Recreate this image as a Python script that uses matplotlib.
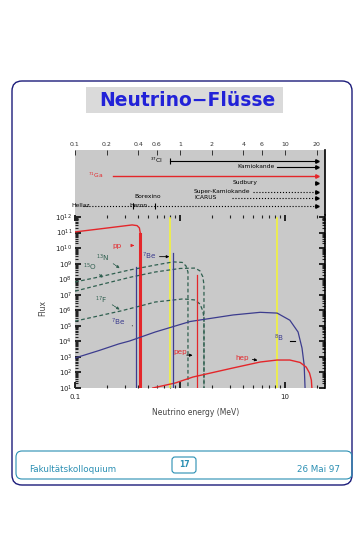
import numpy as np
import matplotlib.pyplot as plt
from matplotlib.patches import FancyBboxPatch, Rectangle
from matplotlib.ticker import LogLocator, NullFormatter

# ---- solar neutrino spectra (E in MeV) ----
pp_E = [0.10, 0.17, 0.27, 0.35, 0.39, 0.41, 0.42]
pp_F = [1.1e11, 1.7e11, 2.5e11, 3.1e11, 2.8e11, 2.0e11, 8.0e10]

n13_E = [0.10, 0.17, 0.33, 0.58, 0.86, 1.05, 1.14, 1.19]
n13_F = [6.6e7, 1.4e8, 3.9e8, 8.1e8, 1.3e9, 1.2e9, 7.1e8, 2.9e8]

o15_E = [0.10, 0.185, 0.33, 0.58, 1.0, 1.39, 1.55, 1.65, 1.69]
o15_F = [1.7e7, 4.9e7, 1.3e8, 2.9e8, 4.9e8, 5.2e8, 3.4e8, 1.4e8, 4.3e7]

f17_E = [0.10, 0.27, 0.42, 0.58, 1.07, 1.39, 1.55, 1.65, 1.69]
f17_F = [2.0e5, 8.9e5, 1.9e6, 3.4e6, 5.4e6, 4.6e6, 2.5e6, 8.9e5, 3.2e5]

b8_E = [0.10, 0.17, 0.26, 0.33, 0.58, 1.25, 3.2, 5.8, 8.4, 11.1, 13.3, 14.5, 15.2, 15.5]
b8_F = [8.5e2, 2.6e3, 6.8e3, 1.05e4, 4.0e4, 1.9e5, 5.0e5, 7.4e5, 6.6e5, 2.3e5, 4.0e4, 3.7e3, 3.0e2, 10]

hep_E = [0.55, 0.9, 1.33, 3.2, 5.8, 8.4, 11.1, 13.9, 15.9, 17.1, 17.8, 18.0]
hep_F = [10, 21, 51, 195, 470, 630, 630, 440, 220, 91, 32, 10]

be7_E = [0.38, 0.86]
be7_F = [6.0e8, 4.8e9]
pep_E = 1.44
pep_F = 1.9e8

threshold_E = [0.8, 8.4]          # yellow lines

# detectors (upper strip)
det_names = ['$^{37}$Cl', 'Kamiokande', '$^{71}$Ga', 'Sudbury', 'Super-Kamiokande', 'ICARUS', 'Hellaz']
det_thresh = [0.8, 8.4, 0.23, None, 4.9, 3.1, 0.12]
det_label_E = [0.69, 8.0, 0.185, 5.5, 4.6, 2.25, 0.139]
det_end = 20

top_ticks = [0.1, 0.2, 0.4, 0.6, 1, 2, 4, 6, 10, 20]
top_labels = ['0.1', '0.2', '0.4', '0.6', '1', '2', '4', '6', '10', '20']

red = '#e4262a'
blue = '#3c3c8e'
green = '#2f5f4f'
yellow = '#f2f23c'
teal = '#2a8fb3'
gray = '#c9c9c9'

fig = plt.figure(figsize=(3.63, 5.35), dpi=100)

# slide background in pixel units
bg = fig.add_axes([0, 0, 1, 1], zorder=0)
bg.set_xlim(0, 363)
bg.set_ylim(535, 0)
bg.axis('off')
bg.add_patch(FancyBboxPatch((12, 81), 340, 404, boxstyle='round,pad=0,rounding_size=10',
                            fc='white', ec='#1c1c7a', lw=1.0))
bg.add_patch(Rectangle((86, 87), 197, 26, fc='#dadada', ec='none'))
bg.text(187, 100.5, 'Neutrino\u2212Flüsse', ha='center', va='center', fontsize=13.5,
        fontweight='bold', color='#2222d8')
bg.add_patch(FancyBboxPatch((16, 451), 336, 28, boxstyle='round,pad=0,rounding_size=6',
                            fc='none', ec=teal, lw=0.8))
bg.add_patch(FancyBboxPatch((172, 457), 24, 16, boxstyle='round,pad=0,rounding_size=3',
                            fc='none', ec=teal, lw=0.8))
bg.text(184, 464.5, '17', ha='center', va='center', fontsize=5.5, fontweight='bold', color=teal)
bg.text(29, 469, 'Fakultätskolloquium', ha='left', va='center', fontsize=6.3, color=teal)
bg.text(340, 469, '26 Mai 97', ha='right', va='center', fontsize=6.3, color=teal)

# ---- flux panel ----
ax = fig.add_axes([75 / 363, 1 - 388 / 535, 250 / 363, 173 / 535], zorder=2)
ax.set_xscale('log')
ax.set_yscale('log')
ax.set_xlim(0.1, 24)
ax.set_ylim(10, 10 ** 12.13)
ax.set_facecolor(gray)

for e in threshold_E:
    ax.axvline(e, ymax=0.98, color=yellow, lw=1.2)

ax.plot(pp_E, pp_F, color=red, lw=1.0)
ax.plot([pp_E[-1], pp_E[-1]], [pp_F[-1], 10], color=red, lw=2.2)

for E, F in [(n13_E, n13_F), (o15_E, o15_F), (f17_E, f17_F)]:
    ax.plot(E + [E[-1]], F + [10], color=green, lw=0.9, ls=(0, (3, 2)))

ax.plot(b8_E, b8_F, color=blue, lw=0.9)
ax.plot(hep_E, hep_F, color=red, lw=1.0)
for e, f in zip(be7_E, be7_F):
    ax.plot([e, e], [10, f], color=blue, lw=0.9)
ax.plot([pep_E, pep_E], [10, pep_F], color=red, lw=0.9)

lab = dict(fontsize=5.2, ha='center', va='center')
ax.text(0.25, 10 ** 10.15, 'pp', color=red, **lab)
ax.annotate('', xy=(0.39, 10 ** 10.17), xytext=(0.33, 10 ** 10.17),
            arrowprops=dict(arrowstyle='-|>', color=red, lw=0.7, mutation_scale=4))
ax.text(0.51, 10 ** 9.45, '$^{7}$Be', color=blue, **lab)
ax.annotate('', xy=(0.84, 10 ** 9.45), xytext=(0.6, 10 ** 9.45),
            arrowprops=dict(arrowstyle='-|>', color='black', lw=0.6, mutation_scale=4))
ax.text(0.26, 10 ** 5.25, '$^{7}$Be', color=blue, **lab)
ax.annotate('', xy=(0.375, 10 ** 5.0), xytext=(0.33, 10 ** 5.0),
            arrowprops=dict(arrowstyle='-', color='black', lw=0.6))
ax.text(0.185, 10 ** 9.36, '$^{13}$N', color=green, **lab)
ax.annotate('', xy=(0.28, 10 ** 8.6), xytext=(0.22, 10 ** 9.1),
            arrowprops=dict(arrowstyle='-|>', color=green, lw=0.6, ls=(0, (2, 1)), mutation_scale=4))
ax.text(0.14, 10 ** 8.78, '$^{15}$O', color=green, **lab)
ax.annotate('', xy=(0.19, 10 ** 7.95), xytext=(0.165, 10 ** 8.45),
            arrowprops=dict(arrowstyle='-|>', color=green, lw=0.6, ls=(0, (2, 1)), mutation_scale=4))
ax.text(0.177, 10 ** 6.66, '$^{17}$F', color=green, **lab)
ax.annotate('', xy=(0.28, 10 ** 5.95), xytext=(0.215, 10 ** 6.45),
            arrowprops=dict(arrowstyle='-|>', color=green, lw=0.6, ls=(0, (2, 1)), mutation_scale=4))
ax.text(1.0, 10 ** 3.32, 'pep', color=red, **lab)
ax.annotate('', xy=(1.4, 10 ** 3.1), xytext=(1.09, 10 ** 3.12),
            arrowprops=dict(arrowstyle='-|>', color='black', lw=0.6, mutation_scale=4))
ax.text(3.9, 10 ** 2.93, 'hep', color=red, **lab)
ax.annotate('', xy=(5.8, 10 ** 2.75), xytext=(4.6, 10 ** 2.87),
            arrowprops=dict(arrowstyle='-|>', color='black', lw=0.6, mutation_scale=4))
ax.text(8.8, 10 ** 4.22, '$^{8}$B', color=blue, **lab)
ax.plot([11.1, 12.3], [10 ** 4.0, 10 ** 4.0], color='black', lw=0.8)

for s in ['left', 'top', 'bottom']:
    ax.spines[s].set_visible(False)
ax.spines['right'].set_linewidth(1.2)

ax.set_yticks([10.0 ** k for k in range(1, 13)])
ax.set_yticklabels(['$10^{%d}$' % k for k in range(1, 13)])
ax.yaxis.set_minor_locator(LogLocator(base=10, subs=np.arange(2, 10), numticks=30))
ax.yaxis.set_minor_formatter(NullFormatter())
ax.set_xticks([0.1, 1, 10])
ax.set_xticklabels(['0.1', '', '10'])
ax.xaxis.set_minor_locator(LogLocator(base=10, subs=np.arange(2, 10), numticks=30))
ax.xaxis.set_minor_formatter(NullFormatter())
ax.tick_params(which='both', direction='in', top=True, right=True, labelsize=5, colors='#222222', pad=2)
ax.tick_params(axis='x', which='major', pad=4)
ax.tick_params(which='major', length=4, width=1.4)
ax.tick_params(which='minor', length=2.5, width=0.8)

ax.set_ylabel('Flux', fontsize=5.5, color='#444444')
ax.yaxis.set_label_coords(-0.11, 0.46)
ax.set_xlabel('Neutrino energy (MeV)', fontsize=5.5, color='#444444')
ax.xaxis.set_label_coords(0.484, -0.115)

# ---- detector strip ----
top = fig.add_axes([75 / 363, 1 - 215 / 535, 250 / 363, 65 / 535], zorder=1)
top.set_xscale('log')
top.set_xlim(0.1, 24)
top.set_ylim(215, 150)
top.set_facecolor(gray)
for s in ['left', 'top', 'bottom']:
    top.spines[s].set_visible(False)
top.spines['right'].set_linewidth(1.2)
top.xaxis.tick_top()
top.set_xticks(top_ticks)
top.set_xticklabels(top_labels)
top.xaxis.set_minor_locator(LogLocator(base=10, subs=np.arange(2, 10), numticks=30))
top.xaxis.set_minor_formatter(NullFormatter())
top.tick_params(axis='x', which='both', direction='in', length=3.5, width=0.7,
                labelsize=4.5, colors='#333333', pad=2)
top.tick_params(axis='x', which='minor', length=0)
top.set_yticks([])

det_y = [160.7, 167.3, 176, 183.3, 191.7, 197.7, 206]
det_color = ['black', 'black', red, 'black', 'black', 'black', 'black']
det_ls = ['-', '-', '-', None, ':', ':', ':']
for name, thr, lx, y, c, ls in zip(det_names, det_thresh, det_label_E, det_y, det_color, det_ls):
    if thr is not None:
        top.plot([thr, det_end], [y, y], color=c, lw=0.8 if c != red else 1.0, ls=ls)
    top.plot([det_end], [y], marker='>', ms=2.5, color=c, mec=c)
    top.text(lx, y - 0.5, name, ha='right', va='center', fontsize=4.3, color=c)
top.plot([0.8], [160.7], marker='|', ms=4, color='black', mew=0.8)
top.text(0.495, 196.3, 'Borexino', ha='center', va='center', fontsize=4.3, color='black')
top.text(0.40, 205.5, 'Heron', ha='center', va='center', fontsize=4.3, color='black')
top.plot([0.357, 0.58], [206, 206], ls='none', marker='|', ms=4, color='black', mew=0.8)

fig.savefig('out.png', dpi=100)
